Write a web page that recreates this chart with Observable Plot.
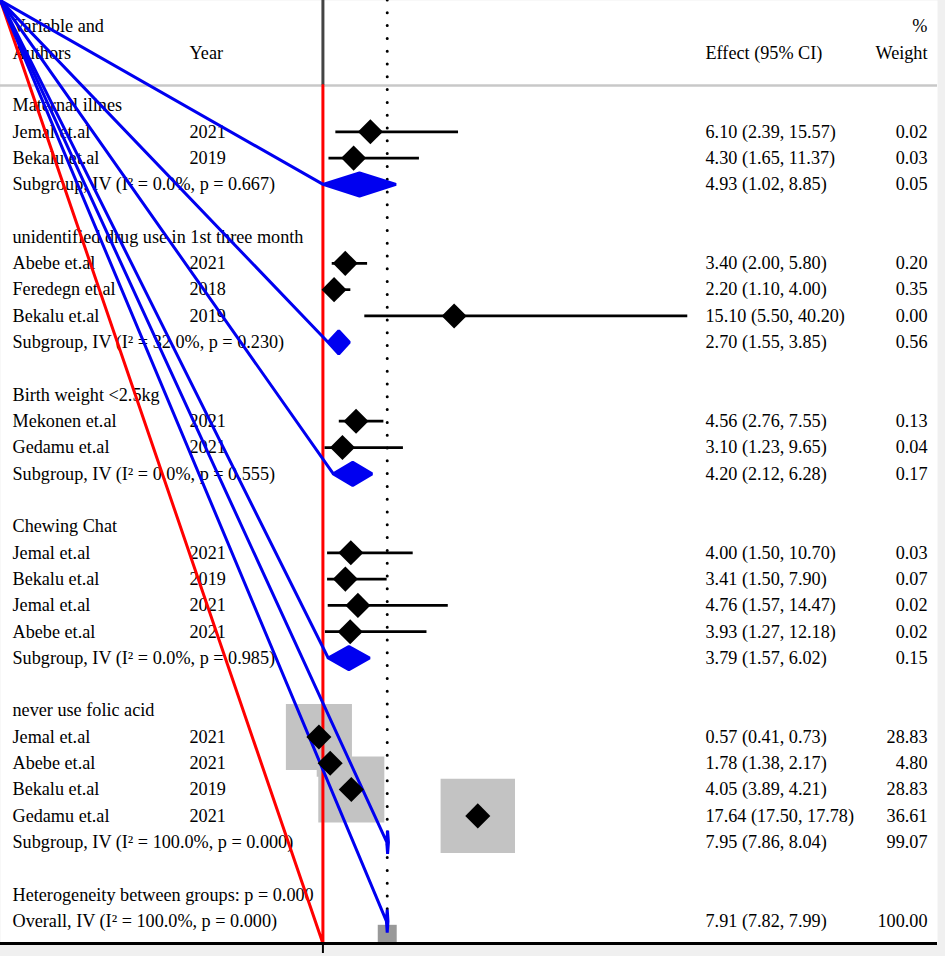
<!DOCTYPE html>
<html>
<head>
<meta charset="utf-8">
<script src="https://cdn.jsdelivr.net/npm/d3@7"></script>
<script src="https://cdn.jsdelivr.net/npm/@observablehq/plot@0.6"></script>
<style>
  html, body { margin: 0; padding: 0; background: #f0f0f0; }
  svg { display: block; }
</style>
</head>
<body>
<div id="chart"></div>
<script>
// ---- data ----
const groups = ["Maternal illnes", "unidentified drug use in 1st three month", "Birth weight <2.5kg", "Chewing Chat", "never use folic acid"];
const studyGroup = [0, 0, 1, 1, 1, 2, 2, 3, 3, 3, 3, 4, 4, 4, 4];
const authors = ["Jemal et.al", "Bekalu et.al", "Abebe et.al", "Feredegn et.al", "Bekalu et.al", "Mekonen et.al", "Gedamu et.al", "Jemal et.al", "Bekalu et.al", "Jemal et.al", "Abebe et.al", "Jemal et.al", "Abebe et.al", "Bekalu et.al", "Gedamu et.al"];
const years = [2021, 2019, 2021, 2018, 2019, 2021, 2021, 2021, 2019, 2021, 2021, 2021, 2021, 2019, 2021];
const effect = [6.10, 4.30, 3.40, 2.20, 15.10, 4.56, 3.10, 4.00, 3.41, 4.76, 3.93, 0.57, 1.78, 4.05, 17.64];
const lower = [2.39, 1.65, 2.00, 1.10, 5.50, 2.76, 1.23, 1.50, 1.50, 1.57, 1.27, 0.41, 1.38, 3.89, 17.50];
const upper = [15.57, 11.37, 5.80, 4.00, 40.20, 7.55, 9.65, 10.70, 7.90, 14.47, 12.18, 0.73, 2.17, 4.21, 17.78];
const weight = [0.02, 0.03, 0.20, 0.35, 0.00, 0.13, 0.04, 0.03, 0.07, 0.02, 0.02, 28.83, 4.80, 28.83, 36.61];

const subI2 = ["0.0%", "32.0%", "0.0%", "0.0%", "100.0%"];
const subP = ["0.667", "0.230", "0.555", "0.985", "0.000"];
const subEffect = [4.93, 2.70, 4.20, 3.79, 7.95];
const subLower = [1.02, 1.55, 2.12, 1.57, 7.86];
const subUpper = [8.85, 3.85, 6.28, 6.02, 8.04];
const subWeight = [0.05, 0.56, 0.17, 0.15, 99.07];

const hetP = "0.000";
const overallI2 = "100.0%";
const overallP = "0.000";
const overallEffect = 7.91, overallLower = 7.82, overallUpper = 7.99, overallWeight = 100.00;
const nullValue = 1;

const headerLeft = [["Variable and", -3], ["Authors", -2]];
const headerYear = "Year";
const headerEffect = "Effect (95% CI)";
const headerWeight = [["%", -3], ["Weight", -2]];

// ---- build rows ----
const rows = [], studies = [], subs = [];
let r = 0;
groups.forEach((g, gi) => {
  rows.push({row: r++, label: g});
  studyGroup.forEach((sg, i) => {
    if (sg !== gi) return;
    const d = {row: r++, label: authors[i], year: String(years[i]), est: effect[i], lo: lower[i], hi: upper[i], w: weight[i]};
    studies.push(d); rows.push(d);
  });
  const s = {row: r++, label: `Subgroup, IV (I² = ${subI2[gi]}, p = ${subP[gi]})`, est: subEffect[gi], lo: subLower[gi], hi: subUpper[gi], w: subWeight[gi]};
  subs.push(s); rows.push(s);
  r++;
});
rows.push({row: r++, label: `Heterogeneity between groups: p = ${hetP}`});
const ov = {row: r++, label: `Overall, IV (I² = ${overallI2}, p = ${overallP})`, est: overallEffect, lo: overallLower, hi: overallUpper, w: overallWeight};
rows.push(ov);

const fmt = v => v.toFixed(2);
const withEst = rows.filter(d => d.est !== undefined);
withEst.forEach(d => { d.effText = `${fmt(d.est)} (${fmt(d.lo)}, ${fmt(d.hi)})`; d.wText = fmt(d.w); });

// scales
const X0 = -33.64, X1 = 67.03;
const Y0 = -3.99, Y1 = 31.85;
const sepRow = -0.76;
const dh = 0.44;

const poly = [];
[...subs, ov].forEach((s, k) => {
  poly.push({x: X0, y: Y0, k}, {x: s.lo, y: s.row, k}, {x: s.est, y: s.row - dh, k},
            {x: s.hi, y: s.row, k}, {x: s.est, y: s.row + dh, k}, {x: s.lo, y: s.row, k});
});
const redPath = [{x: X0, y: Y0}, {x: nullValue, y: Y1}, {x: nullValue, y: sepRow}];

const font = "Liberation Serif";
const fs = 18.2;

const chart = Plot.plot({
  width: 945,
  height: 956,
  marginLeft: 0, marginRight: 8, marginTop: 0, marginBottom: 13,
  style: {fontFamily: font, fontSize: fs + "px", background: "#f0f0f0", color: "black"},
  x: {domain: [X0, X1], axis: null},
  y: {domain: [Y0, Y1], range: [0, 943], axis: null},
  r: {type: "sqrt", domain: [0, 100], range: [0, 69.4]},
  marks: [
    Plot.frame({fill: "white", stroke: null}),
    // text columns
    Plot.text(headerLeft, {y: d => d[1], text: d => d[0], frameAnchor: "left", dx: 12, textAnchor: "start", fontSize: fs}),
    Plot.text([headerYear], {y: -2, text: d => d, frameAnchor: "left", dx: 189, textAnchor: "start", fontSize: fs}),
    Plot.text([headerEffect], {y: -2, text: d => d, frameAnchor: "left", dx: 705, textAnchor: "start", fontSize: fs}),
    Plot.text(headerWeight, {y: d => d[1], text: d => d[0], frameAnchor: "right", dx: -10, textAnchor: "end", fontSize: fs}),
    Plot.text(rows, {y: "row", text: "label", frameAnchor: "left", dx: 12, textAnchor: "start", fontSize: fs}),
    Plot.text(studies, {y: "row", text: "year", frameAnchor: "left", dx: 189, textAnchor: "start", fontSize: fs}),
    Plot.text(withEst, {y: "row", text: "effText", frameAnchor: "left", dx: 705, textAnchor: "start", fontSize: fs}),
    Plot.text(withEst, {y: "row", text: "wText", frameAnchor: "right", dx: -10, textAnchor: "end", fontSize: fs}),
    // weight boxes
    Plot.dot(studies, {x: "est", y: "row", r: "w", symbol: "square", fill: "#c3c3c3", stroke: null}),
    // separators and reference lines
    Plot.ruleY([sepRow], {stroke: "#c8c8c8", strokeWidth: 2.5}),
    Plot.ruleX([nullValue], {y1: Y0, y2: sepRow, stroke: "#444", strokeWidth: 3}),
    Plot.ruleX([overallEffect], {stroke: "black", strokeWidth: 3, strokeDasharray: "0,12.8", strokeLinecap: "round"}),
    Plot.line(redPath, {x: "x", y: "y", stroke: "#ff0000", strokeWidth: 3, strokeLinejoin: "miter"}),
    // CI whiskers
    Plot.ruleY(studies, {y: "row", x1: "lo", x2: "hi", stroke: "black", strokeWidth: 2.7}),
    // overall square
    Plot.dot([ov], {x: "est", y: d => d.row + 0.5, r: 10.7, symbol: "square", fill: "#999999", stroke: null}),
    // pooled diamonds (with stray path start)
    Plot.line(poly, {x: "x", y: "y", z: "k", stroke: "#0000f0", fill: "#0000f0", strokeWidth: 3, strokeLinejoin: "miter"}),
    // study point estimates
    Plot.dot(studies, {x: "est", y: "row", r: 11.3, symbol: "diamond2", fill: "black", stroke: null}),
    // bottom axis
    Plot.ruleY([Y1], {stroke: "black", strokeWidth: 3}),
    Plot.ruleX([nullValue], {y1: Y1, y2: Y1 + 0.38, stroke: "black", strokeWidth: 2})
  ]
});
document.getElementById("chart").appendChild(chart);
</script>
</body>
</html>
